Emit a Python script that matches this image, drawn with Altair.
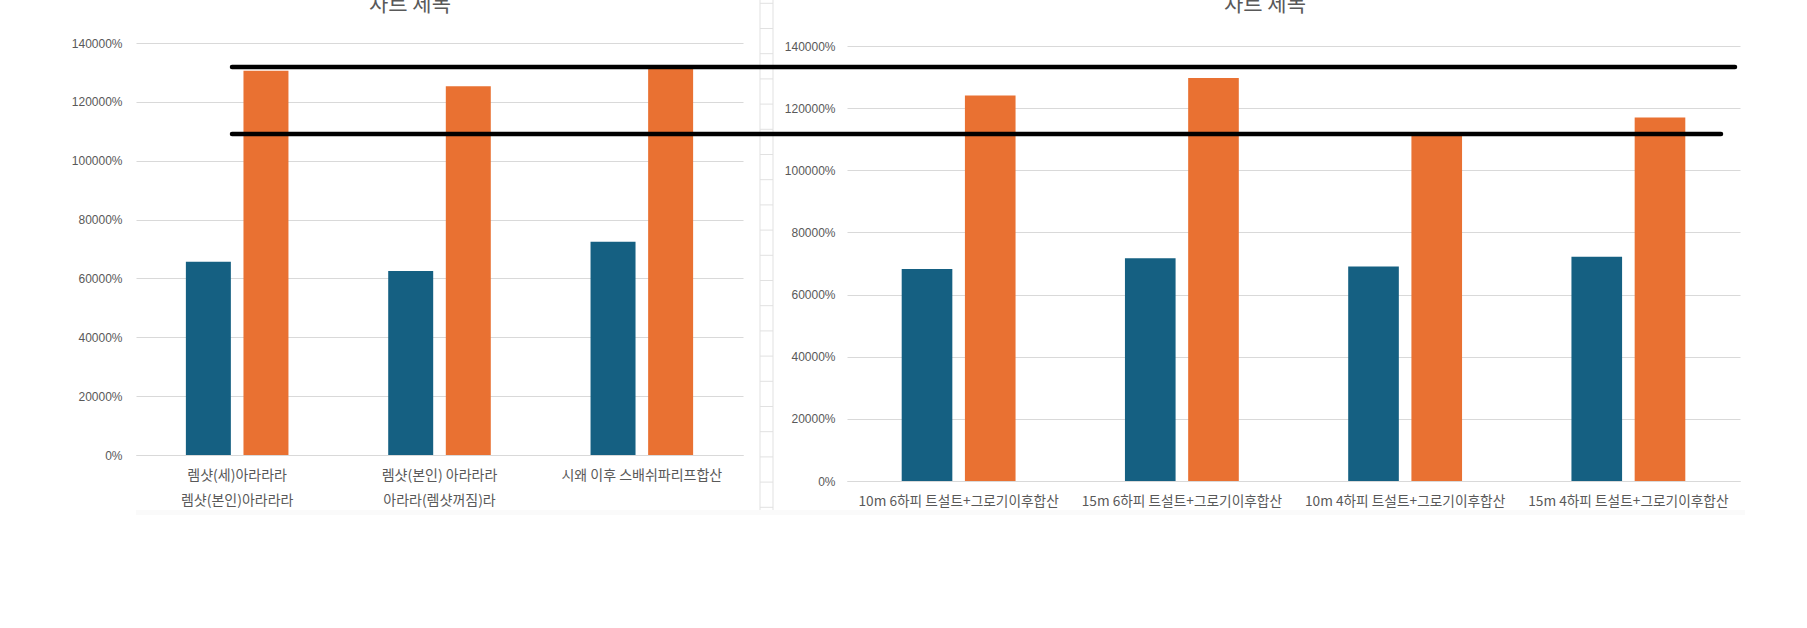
import altair as alt
import pandas as pd

# ---------------- data ----------------
series_names = ["계열1", "계열2"]
series_colors = ["#156082", "#E97132"]

left_categories = [
    "렘샷(세)아라라라|렘샷(본인)아라라라",
    "렘샷(본인) 아라라라|아라라(렘샷꺼짐)라",
    "시왜 이후 스배쉬파리프합산",
]
left_series1 = [65700, 62500, 72500]
left_series2 = [130600, 125300, 131500]

right_categories = [
    "10m 6하피 트설트+그로기이후합산",
    "15m 6하피 트설트+그로기이후합산",
    "10m 4하피 트설트+그로기이후합산",
    "15m 4하피 트설트+그로기이후합산",
]
right_series1 = [68200, 71700, 69000, 72200]
right_series2 = [124100, 129700, 111500, 117000]

y_ticks = [0, 20000, 40000, 60000, 80000, 100000, 120000, 140000]
chart_titles = ["차트 제목", "차트 제목"]
sheet_rows = list(range(21))


def long_table(cats, s1, s2):
    rows = []
    for c, a, b in zip(cats, s1, s2):
        rows.append({"category": c, "series": series_names[0], "value": a})
        rows.append({"category": c, "series": series_names[1], "value": b})
    return pd.DataFrame(rows)


df_left = long_table(left_categories, left_series1, left_series2)
df_right = long_table(right_categories, right_series1, right_series2)

GRAY = "#595959"
GRID = "#d9d9d9"
KFONT = "Noto Sans CJK KR"
NFONT = "Liberation Sans"

color_enc = alt.Color(
    "series:N",
    scale=alt.Scale(domain=series_names, range=series_colors),
    legend=None,
)


def bar_panel(df, cats, x_range, y_range, x_off, y_off, pad_inner, off_inner,
              lab_size, lab_pad, y_lab_pad):
    return alt.Chart(df).mark_bar().encode(
        x=alt.X(
            "category:N",
            sort=cats,
            scale=alt.Scale(range=x_range, paddingInner=pad_inner,
                            paddingOuter=pad_inner / 2),
            axis=alt.Axis(
                orient="bottom", offset=x_off, title=None, labelAngle=0,
                labelExpr="split(datum.label, '|')", labelLineHeight=25,
                labelFont=KFONT, labelFontSize=lab_size, labelColor=GRAY,
                labelPadding=lab_pad, labelLimit=600, labelOverlap=False,
                ticks=False, tickSize=0, domainColor=GRID, grid=False,
            ),
        ),
        xOffset=alt.XOffset(
            "series:N", sort=series_names,
            scale=alt.Scale(paddingInner=off_inner, paddingOuter=0),
        ),
        y=alt.Y(
            "value:Q",
            scale=alt.Scale(domain=[0, 140000], range=y_range, nice=False),
            axis=alt.Axis(
                orient="left", offset=y_off, title=None, values=y_ticks,
                labelExpr="datum.value + '%'", labelFont=NFONT,
                labelFontSize=12, labelColor=GRAY, labelPadding=y_lab_pad,
                domain=False, ticks=False, tickSize=0,
                grid=True, gridColor=GRID, gridWidth=1,
            ),
        ),
        color=color_enc,
    )


left = bar_panel(df_left, left_categories, [136, 743], [455, 43], -173, -136,
                 0.493, 0.219, 14, 13, 14)
right = bar_panel(df_right, right_categories, [847, 1740], [481, 46], -147, -847,
                  0.49, 0.199, 13.7, 13, 12)

one = alt.Data(values=[{}])

# spreadsheet strip between the two charts
strip_v = alt.Chart(pd.DataFrame({"edge": [0, 1]})).mark_rule(
    color="#e1e1e1", strokeWidth=1
).encode(
    x=alt.X("edge:Q", scale=alt.Scale(domain=[0, 1], range=[760, 773]), axis=None),
    y=alt.value(0), y2=alt.value(510),
)
strip_h = alt.Chart(pd.DataFrame({"row": sheet_rows})).mark_rule(
    color="#e1e1e1", strokeWidth=1
).encode(
    y=alt.Y("row:Q", scale=alt.Scale(domain=[0, 20], range=[3.3, 507.3]), axis=None),
    x=alt.value(760), x2=alt.value(773),
)

bottom_fade = alt.Chart(one).mark_rect(color="#fafafa").encode(
    x=alt.value(136), x2=alt.value(1745), y=alt.value(510), y2=alt.value(515)
)

title_left = alt.Chart(one).mark_text(
    text=chart_titles[0], font=KFONT, fontSize=21, color=GRAY, baseline="middle"
).encode(x=alt.value(410), y=alt.value(5))
title_right = alt.Chart(one).mark_text(
    text=chart_titles[1], font=KFONT, fontSize=21, color=GRAY, baseline="middle"
).encode(x=alt.value(1265), y=alt.value(5))

line1 = alt.Chart(one).mark_rule(color="black", strokeWidth=4.5, strokeCap="round").encode(
    x=alt.value(232), x2=alt.value(1735), y=alt.value(67)
)
line2 = alt.Chart(one).mark_rule(color="black", strokeWidth=4.5, strokeCap="round").encode(
    x=alt.value(232), x2=alt.value(1721), y=alt.value(134)
)

chart = alt.layer(
    bottom_fade, left, right, strip_v, strip_h, title_left, title_right, line1, line2
).resolve_scale(
    x="independent", y="independent", xOffset="independent", color="shared"
).resolve_axis(
    x="independent", y="independent"
).properties(
    width=1807, height=628, padding=0,
    autosize=alt.AutoSizeParams(type="none"),
    background="white",
).configure_view(stroke=None)

chart.save("out.html", embed_options={"renderer": "svg", "actions": False})
